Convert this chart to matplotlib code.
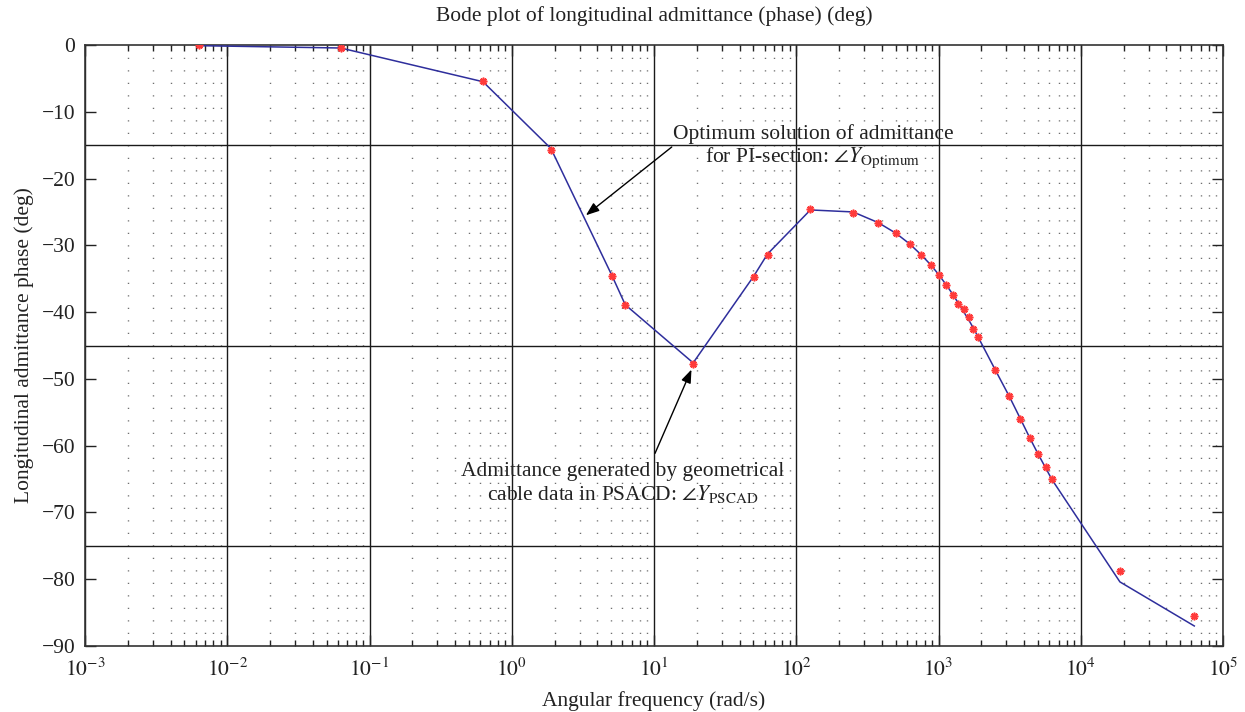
import matplotlib
matplotlib.use("Agg")
import matplotlib.pyplot as plt
from matplotlib.ticker import LogLocator, MultipleLocator, FixedLocator, NullFormatter, FuncFormatter

plt.rcParams['font.family'] = ['Liberation Serif', 'DejaVu Serif']
plt.rcParams['mathtext.fontset'] = 'stix'

# ---- data (rad/s, deg) ----
w_pscad = [0.00628, 0.0628, 0.628, 1.885, 5.03, 6.28, 18.85, 50.3, 62.8, 125.7,
           251, 377, 503, 628, 754, 880, 1005, 1131, 1257, 1382, 1508, 1634,
           1759, 1885, 2513, 3142, 3770, 4398, 5027, 5655, 6283, 18850, 62832]
ph_pscad = [-0.05, -0.5, -5.45, -15.75, -34.6, -39.0, -47.7, -34.8, -31.5, -24.6,
            -25.1, -26.6, -28.1, -29.8, -31.4, -33.0, -34.5, -36.0, -37.5, -38.85, -39.5, -40.8,
            -42.5, -43.7, -48.7, -52.6, -56.0, -58.9, -61.3, -63.2, -65.0, -78.8, -85.5]

w_opt = [0.00628, 0.0628, 0.628, 1.885, 5.03, 6.28, 18.85, 50.3, 62.8, 125.7,
         251, 377, 503, 628, 754, 880, 1005, 1131, 1257, 1382, 1508, 1634,
         1759, 1885, 2513, 3142, 3770, 4398, 5027, 5655, 6283, 18850, 62832]
ph_opt = [-0.1, -0.45, -5.5, -15.5, -34.4, -38.9, -47.6, -34.6, -31.3, -24.7,
          -25.0, -26.6, -28.2, -29.8, -31.4, -32.9, -34.4, -35.9, -37.3, -38.7, -40.0, -41.2,
          -42.4, -43.6, -48.7, -52.6, -56.0, -58.9, -61.3, -63.3, -65.1, -80.4, -87.0]

x_ticks = [1e-3, 1e-2, 1e-1, 1e0, 1e1, 1e2, 1e3, 1e4, 1e5]
x_ticklabels = ['$10^{-3}$', '$10^{-2}$', '$10^{-1}$', '$10^{0}$', '$10^{1}$',
                '$10^{2}$', '$10^{3}$', '$10^{4}$', '$10^{5}$']
y_ticks = [0, -10, -20, -30, -40, -50, -60, -70, -80, -90]

fig = plt.figure(figsize=(12.45, 7.12), dpi=100)
ax = fig.add_axes([85/1245, 1-646/712, 1138/1245, 601/712])

ax.set_xscale('log')
ax.set_xlim(1e-3, 1e5)
ax.set_ylim(-90, 0)

ax.set_xticks(x_ticks)
ax.set_xticklabels(x_ticklabels)
ax.xaxis.set_minor_locator(LogLocator(base=10, subs=range(2, 10), numticks=200))
ax.xaxis.set_minor_formatter(NullFormatter())
ax.yaxis.set_major_locator(FixedLocator(y_ticks))
ax.yaxis.set_minor_locator(MultipleLocator(15))
ax.yaxis.set_major_formatter(FuncFormatter(lambda v, p: ('%d' % v).replace('-', '\u2212')))

# grids
ax.grid(which='major', axis='x', color='#1a1a1a', lw=1.0, ls='-')
ax.grid(which='minor', axis='x', color='#707070', lw=1.0, ls=(0, (0.9, 8.1)))
ax.grid(which='minor', axis='y', color='#1a1a1a', lw=1.0, ls='-')
ax.set_axisbelow(True)

ax.tick_params(which='both', direction='in', top=True, right=True, colors='#222222',
               labelsize=15.5)
ax.tick_params(axis='x', which='major', pad=9)
ax.tick_params(axis='y', which='major', pad=7)
ax.tick_params(which='major', length=8, width=1.0)
ax.tick_params(axis='x', which='minor', length=4, width=1.0)
ax.tick_params(axis='y', which='minor', length=0)
for s in ax.spines.values():
    s.set_color('#333333')
    s.set_linewidth(1.2)

ax.plot(w_opt, ph_opt, color='#2e2e9c', lw=1.1, zorder=3)
ax.plot(w_pscad, ph_pscad, ls='none', marker=(8, 2, 0), ms=5.5, mew=1.2,
        color='#ff3a3a', zorder=4)

ax.set_title('Bode plot of longitudinal admittance (phase) (deg)', fontsize=15.5,
             color='#222222', pad=17.5)
ax.set_xlabel('Angular frequency (rad/s)', fontsize=15.5, color='#222222', labelpad=7)
ax.set_ylabel('Longitudinal admittance phase (deg)', fontsize=15.5, color='#222222', labelpad=5)

aprops = dict(arrowstyle='-|>,head_length=0.8,head_width=0.3', color='black', lw=1.0,
              shrinkA=0, shrinkB=0)
ax.text(0.6397, 0.830, 'Optimum solution of admittance\nfor PI-section: $\\angle Y_{\\mathrm{Optimum}}$',
        transform=ax.transAxes, ha='center', va='center', fontsize=15.5, color='#222222',
        linespacing=1.13)
ax.annotate('', xy=(3.32, -25.5), xycoords='data', xytext=(0.5156, 0.8303),
            textcoords='axes fraction', arrowprops=aprops)

ax.text(0.4724, 0.2703, 'Admittance generated by geometrical\ncable data in PSACD: $\\angle Y_{\\mathrm{PSCAD}}$',
        transform=ax.transAxes, ha='center', va='center', fontsize=15.5, color='#222222',
        linespacing=1.13)
ax.annotate('', xy=(18.34, -48.6), xycoords='data', xytext=(0.5009, 0.3206),
            textcoords='axes fraction', arrowprops=aprops)

fig.savefig('out.png', dpi=100)
